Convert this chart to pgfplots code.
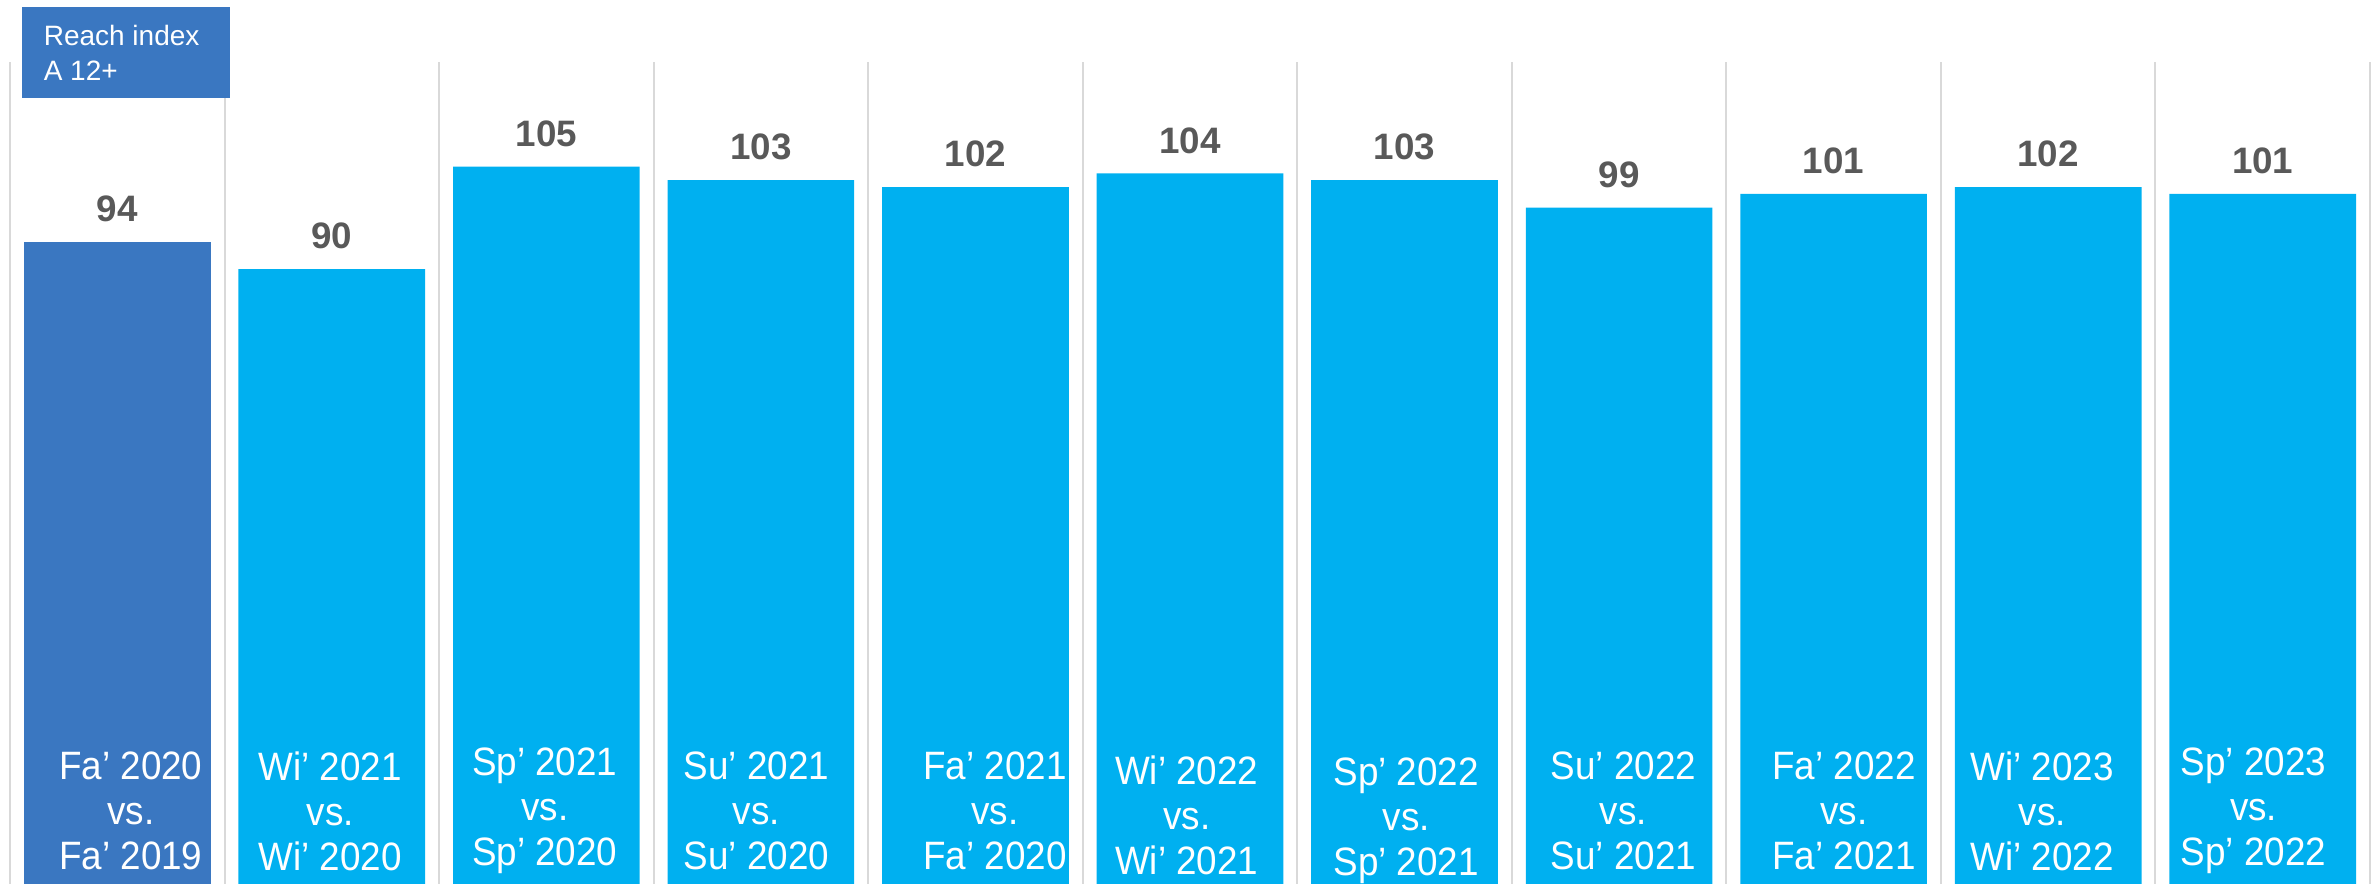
\documentclass[border=0pt]{standalone}
\usepackage{fontspec}
\setmainfont{Liberation Sans}
\newfontfamily\narrowfont{Liberation Sans}[FakeStretch=0.93]
\usepackage{pgfplots}
\pgfplotsset{compat=1.18}
\definecolor{darkbar}{HTML}{3A77C1}
\definecolor{cyanbar}{HTML}{00B0F0}
\definecolor{sepgray}{HTML}{D9D9D9}
\definecolor{lblgray}{HTML}{595959}
\begin{document}
\begin{tikzpicture}
\begin{axis}[
  scale only axis,
  width=590pt, height=205.5pt,
  xmin=-0.5, xmax=10.5, ymin=0, ymax=120.3,
  xtick={-0.5,0.5,...,10.5}, xticklabels={},
  ytick=\empty,
  xmajorgrids,
  major grid style={line width=0.5pt, color=sepgray},
  major tick length=0pt,
  axis line style={draw=none},
  ybar, bar width=0.87,
  clip=false,
  /pgf/number format/assume math mode=true,
  nodes near coords,
  every node near coord/.append style={anchor=center, yshift=8.25pt, font=\bfseries\fontsize{9.2}{10}\selectfont, text=lblgray},
]
\addplot[fill=darkbar, draw=none, bar shift=0pt] coordinates {(0,94)};
\addplot[fill=cyanbar, draw=none, bar shift=0pt] coordinates {
(1,90) (2,105) (3,103) (4,102) (5,104) (6,103) (7,99) (8,101) (9,102) (10,101)};
\begin{scope}[every node/.style={text=white, align=center, font=\narrowfont\fontsize{9.9}{11.25}\selectfont}]
\node at (axis cs:0,10.7) [xshift=3.4pt] {Fa’ 2020\\vs.\\Fa’ 2019};
\node at (axis cs:1,10.7) [xshift=-0.4pt] {Wi’ 2021\\vs.\\Wi’ 2020};
\node at (axis cs:2,10.7) [xshift=-0.4pt] {Sp’ 2021\\vs.\\Sp’ 2020};
\node at (axis cs:3,10.7) [xshift=-1.1pt] {Su’ 2021\\vs.\\Su’ 2020};
\node at (axis cs:4,10.7) [xshift=4.9pt] {Fa’ 2021\\vs.\\Fa’ 2020};
\node at (axis cs:5,10.7) [xshift=-0.8pt, yshift=-1.1pt] {Wi’ 2022\\vs.\\Wi’ 2021};
\node at (axis cs:6,10.7) [xshift=0.4pt, yshift=-2.4pt] {Sp’ 2022\\vs.\\Sp’ 2021};
\node at (axis cs:7,10.7) [xshift=1.1pt] {Su’ 2022\\vs.\\Su’ 2021};
\node at (axis cs:8,10.7) [xshift=2.6pt] {Fa’ 2022\\vs.\\Fa’ 2021};
\node at (axis cs:9,10.7) [xshift=-1.5pt] {Wi’ 2023\\vs.\\Wi’ 2022};
\node at (axis cs:10,10.7) [xshift=-2.3pt] {Sp’ 2023\\vs.\\Sp’ 2022};
\end{scope}
\end{axis}
\fill[darkbar] (3pt,196.5pt) rectangle (55pt,219.25pt);
\node[anchor=west, align=left, text=white, inner sep=0pt, font=\fontsize{7}{8.75}\selectfont] at (8.25pt,207.9pt) {Reach index\\A 12+};
\pgfresetboundingbox
\path (-2.5pt,0pt) rectangle (591.5pt,221pt);
\end{tikzpicture}
\end{document}
